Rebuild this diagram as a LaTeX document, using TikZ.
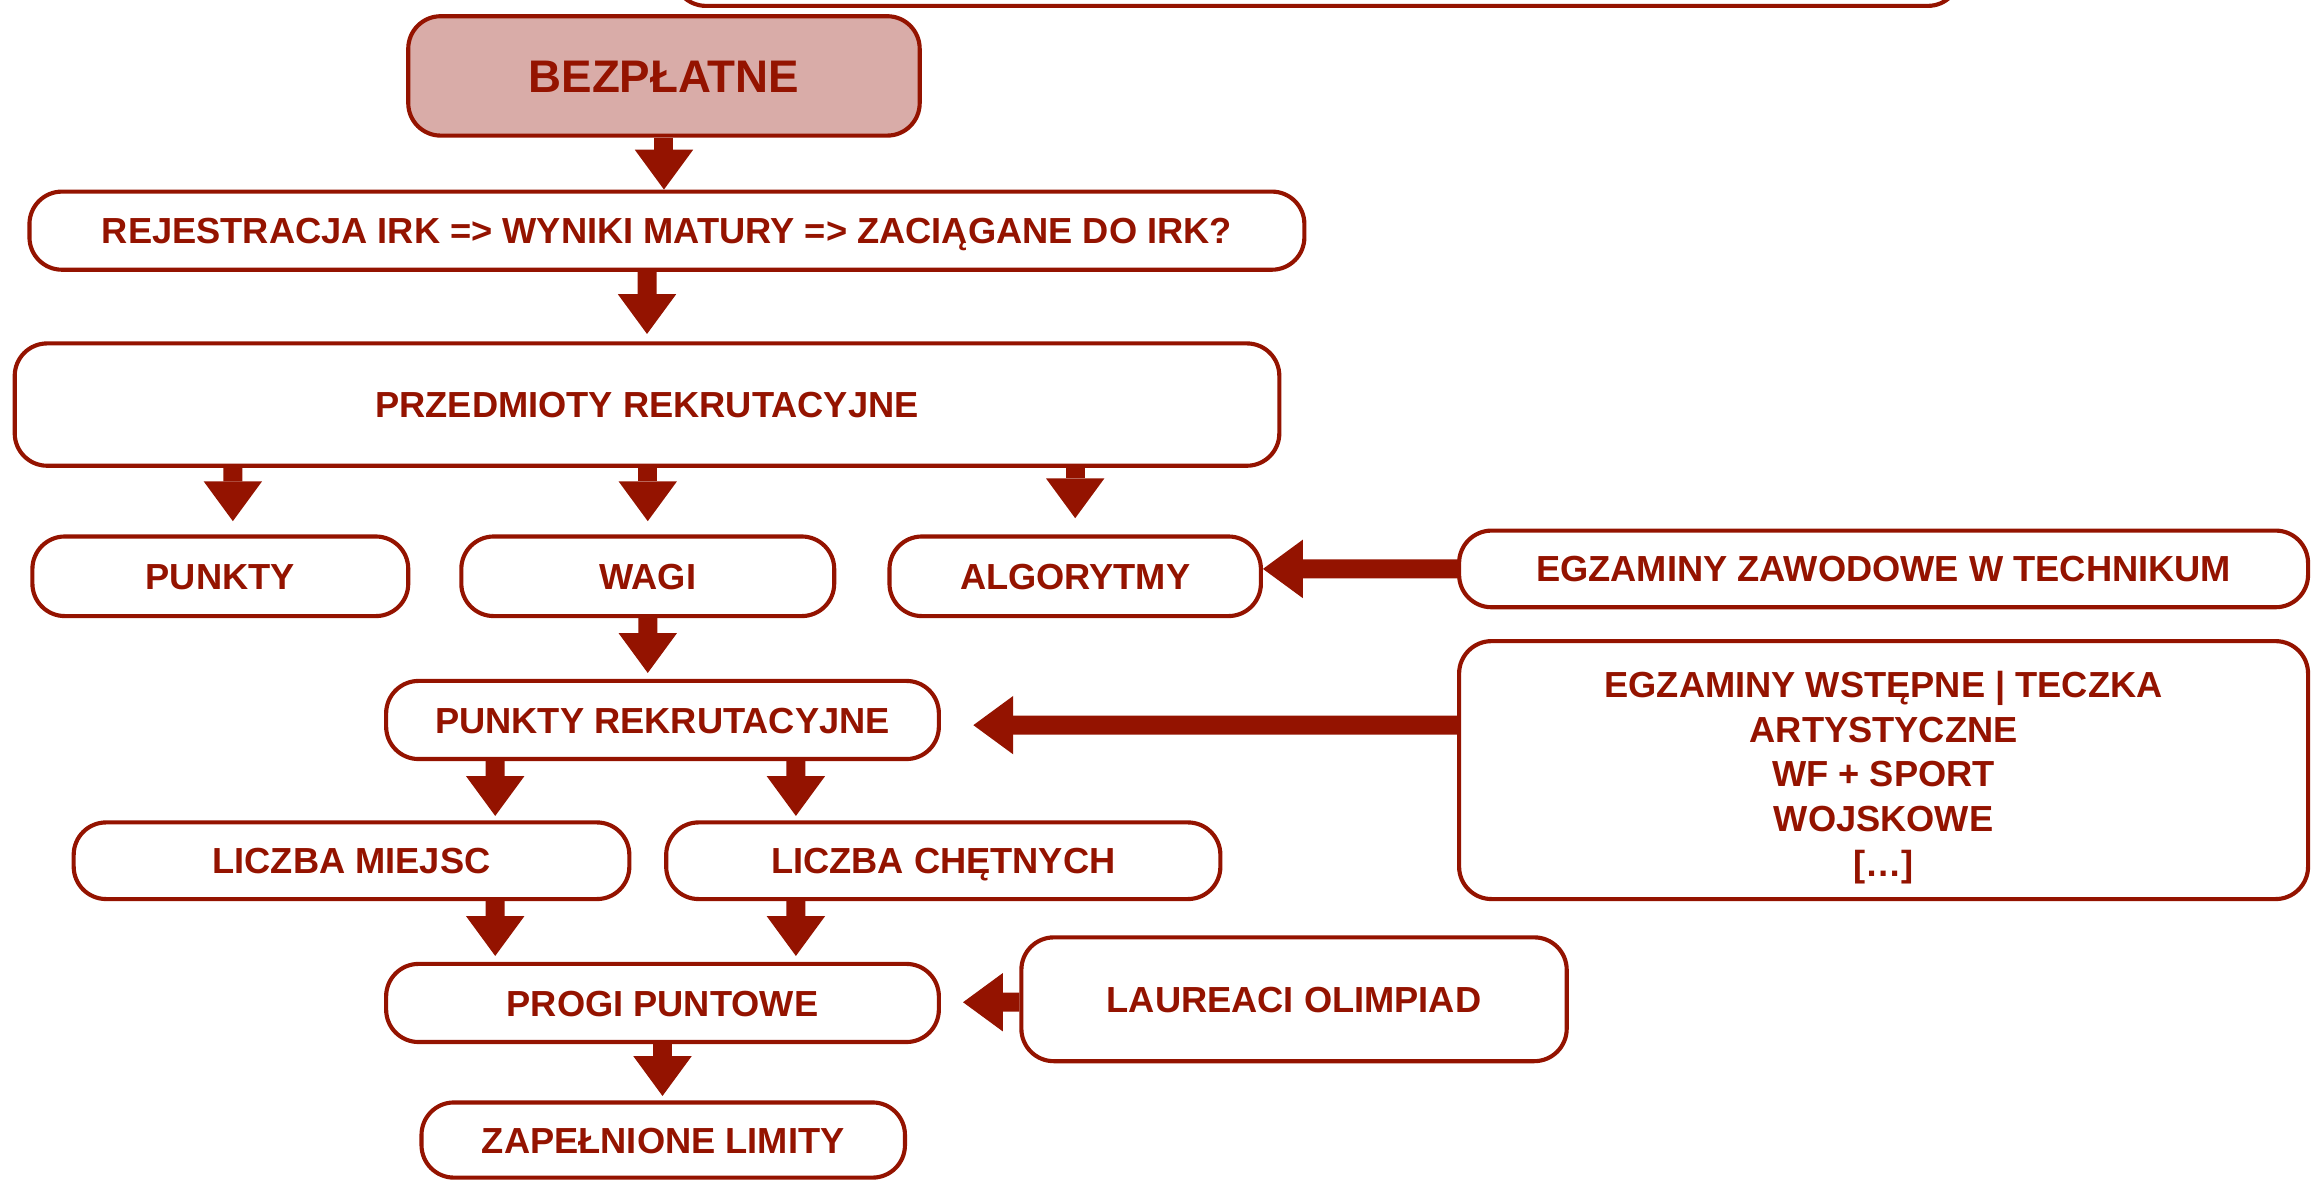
\documentclass[tikz,border=0pt]{standalone}
\usepackage{fontspec}
\setmainfont{Liberation Sans}
\usetikzlibrary{arrows.meta,positioning}
\definecolor{irkred}{RGB}{148,19,0}
\definecolor{irkpink}{RGB}{217,172,168}
\tikzset{>={Triangle[length=13.5bp,width=19.8bp,line width=0pt]},node distance=145bp}
\tikzset{
  box/.style={draw=irkred,line width=1.4bp,rounded corners=11bp,fill=white,text=irkred,
    font=\bfseries\fontsize{12.3bp}{15.25bp}\selectfont,align=center,inner sep=0pt,
    text height=8.85bp,text depth=0bp},
  fat arrow/.style={->,draw=irkred,color=irkred,line width=6.45bp}
}

\begin{document}
\begin{tikzpicture}[x=0.5bp,y=-0.5bp]
        \useasboundingbox (0,0) rectangle (1568,801.3);
        \node[box,minimum width=436.5bp,minimum height=30bp] (top) at (893.5,-26) {};
        \node[box,fill=irkpink,minimum width=173.5bp,minimum height=40.5bp,
              font=\bfseries\fontsize{15.5bp}{18bp}\selectfont,text height=11.1bp] (bez) at (450.5,51.5) {BEZPŁATNE};
        \node[box,minimum width=432.5bp,minimum height=26.5bp] (rej) at (452.5,156.5) {REJESTRACJA IRK => WYNIKI MATURY => ZACIĄGANE DO IRK?};
        \node[box,minimum width=429bp,minimum height=41.5bp] (przedm) at (439,274.5) {PRZEDMIOTY REKRUTACYJNE};
        \node[box,minimum width=126.5bp,minimum height=27bp] (wagi) at (439.5,391) {WAGI};
        \node[box,minimum width=127.5bp,minimum height=27bp] (punkty) [left of=wagi] {PUNKTY};
        \node[box,minimum width=126bp,minimum height=27bp] (algo) [right of=wagi] {ALGORYTMY};
        \node[box,minimum width=288bp,minimum height=26bp] (zaw) at (1278,386) {EGZAMINY ZAWODOWE W TECHNIKUM};
        \node[box,minimum width=187.5bp,minimum height=26.5bp] (pkrek) at (449.5,488.5) {PUNKTY REKRUTACYJNE};
        \node[box,minimum width=288bp,minimum height=87.5bp,text height=,text depth=] (wstep) at (1278,522.5)
              {\rule{0pt}{14bp}EGZAMINY WSTĘPNE | TECZKA\\ARTYSTYCZNE\\WF + SPORT\\WOJSKOWE\\{[…]}};
        \node[box,minimum width=188.5bp,minimum height=26bp] (miejsc) at (238.5,584) {LICZBA MIEJSC};
        \node[box,minimum width=188bp,minimum height=26bp] (chetn) [right of=miejsc,node distance=200.75bp] {LICZBA CHĘTNYCH};
        \node[box,minimum width=187.5bp,minimum height=26.5bp] (progi) at (449.5,680.5) {PROGI PUNTOWE};
        \node[box,minimum width=185bp,minimum height=42bp] (laur) at (878,678) {LAUREACI OLIMPIAD};
        \node[box,minimum width=164bp,minimum height=25.5bp] (zap) at (450,773.5) {ZAPEŁNIONE LIMITY};
        \draw[fat arrow] (bez.south) -- (bez.south |- rej.north);
        \draw[fat arrow] ([xshift=-6.75bp]rej.south) -- ([yshift=2.5bp]przedm.north);
        \draw[fat arrow] ([xshift=-140.5bp]przedm.south) -- ([xshift=4.25bp,yshift=4.5bp]punkty.north);
        \draw[fat arrow] (przedm.south -| wagi.north) -- ([yshift=4.5bp]wagi.north);
        \draw[fat arrow] (przedm.south -| algo.north) -- ([yshift=5.5bp]algo.north);
        \draw[fat arrow] (wagi.south) -- ([xshift=-5bp,yshift=2bp]pkrek.north);
        \draw[fat arrow] ([xshift=-56.75bp]pkrek.south) -- ([xshift=48.75bp,yshift=1.5bp]miejsc.north);
        \draw[fat arrow] ([xshift=45.25bp]pkrek.south) -- ([xshift=-50bp,yshift=1.5bp]chetn.north);
        \draw[fat arrow] ([xshift=48.75bp]miejsc.south) -- ([xshift=-56.75bp,yshift=2bp]progi.north);
        \draw[fat arrow] ([xshift=-50bp]chetn.south) -- ([xshift=45.25bp,yshift=2bp]progi.north);
        \draw[fat arrow] (progi.south) -- ([xshift=-0.25bp,yshift=1.5bp]zap.north);
        \draw[fat arrow] (zaw.west) -- ([yshift=2.5bp]algo.east);
        \draw[fat arrow] ([yshift=15.25bp]wstep.west) -- ([xshift=11bp,yshift=-1.75bp]pkrek.east);
        \draw[fat arrow] ([yshift=-1bp]laur.west) -- ([xshift=7.5bp,yshift=0.25bp]progi.east);
\end{tikzpicture}
\end{document}
